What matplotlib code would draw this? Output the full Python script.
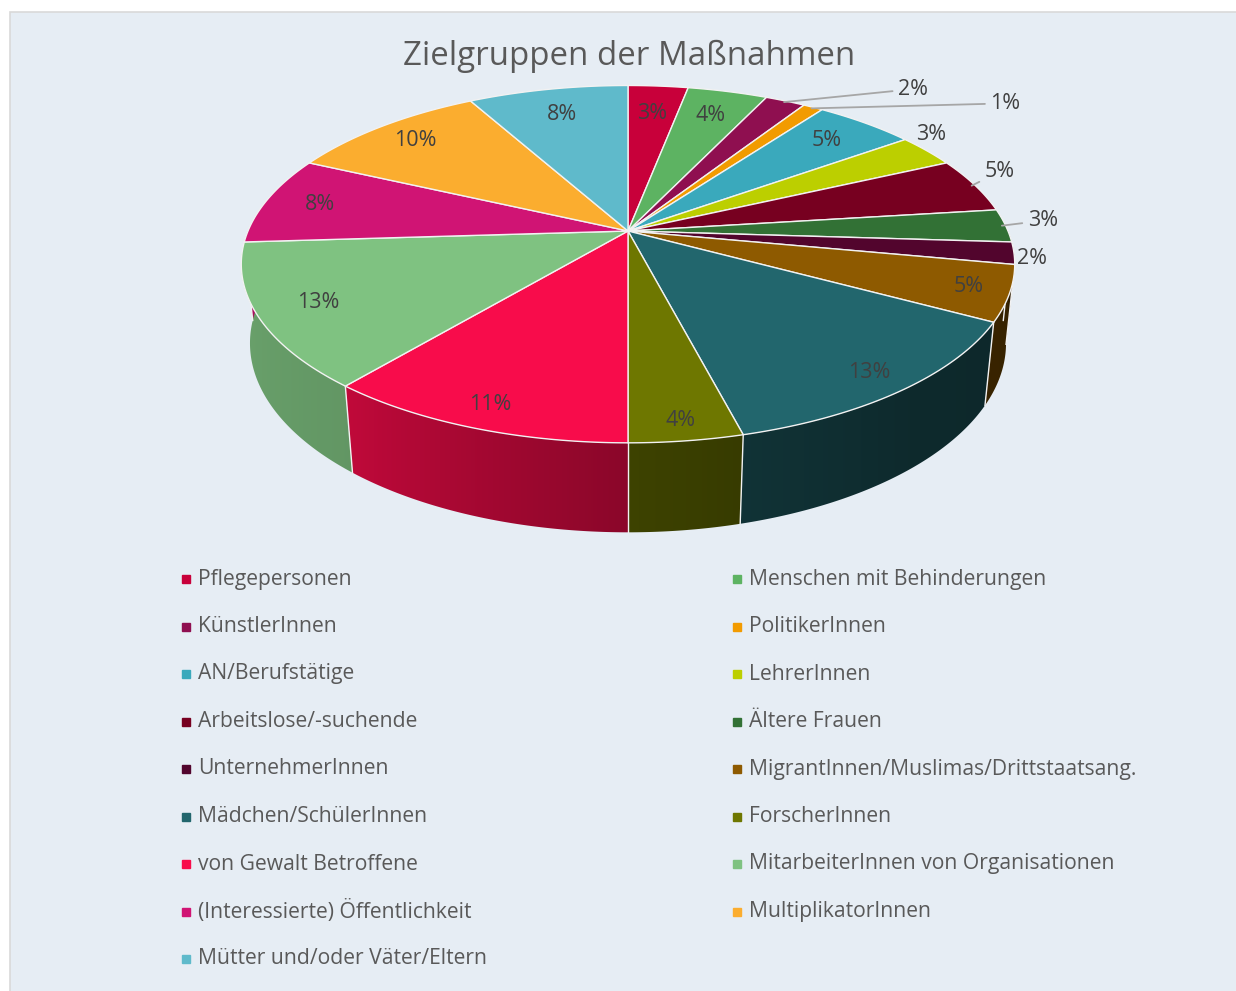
import numpy as np
import matplotlib
matplotlib.use("Agg")
import matplotlib.pyplot as plt
from matplotlib.patches import Polygon, Rectangle

# ── Data ──────────────────────────────────────────────────────────────────────

categories = [
    "Pflegepersonen", "Menschen mit Behinderungen", "KünstlerInnen",
    "PolitikerInnen", "AN/Berufstätige", "LehrerInnen",
    "Arbeitslose/-suchende", "Ältere Frauen", "UnternehmerInnen",
    "MigrantInnen/Muslimas/Drittstaatsang.", "Mädchen/SchülerInnen",
    "ForscherInnen", "von Gewalt Betroffene",
    "MitarbeiterInnen von Organisationen", "(Interessierte) Öffentlichkeit",
    "MultiplikatorInnen", "Mütter und/oder Väter/Eltern",
]
percent = [3, 4, 2, 1, 5, 3, 5, 3, 2, 5, 13, 4, 11, 13, 8, 10, 8]
colors = [
    "#c8003a", "#5db362", "#8f0f50", "#f29b00", "#3aa9bc", "#bccf00",
    "#770020", "#327135", "#52052d", "#8e5a00", "#22666d", "#6e7700",
    "#f80c4b", "#7fc281", "#d01474", "#fbad2f", "#5fbacb",
]

# ── Style / layout ────────────────────────────────────────────────────────────

W, H, DPI = 1236, 991, 100
BG     = "#e6edf4"
FRAME  = "#d9d9d9"
TXT    = "#595959"
LBL    = "#404040"
LEADER = "#a6a6a6"
EDGE   = "#f2f2f2"
FONT   = "Open Sans"

CX, CY = 628, 231        # pie centre on the page (px)
RADIUS = 380             # px
TILT   = np.radians(27)
DIST   = 4.8             # camera distance, in radii
DEPTH  = 0.235           # pie thickness, in radii

# label radius for labels drawn on the slice
LABEL_R = [0.78, 0.8, None, None, 0.82, None, None, None, None, 0.9,
           0.9, 0.92, 0.9, 0.85, 0.85, 0.85, 0.8]
# outside labels: index -> (dx, dy, leader line)
OUTSIDE = {
    2: (129, -13, True),
    3: (194, -5, True),
    5: (7, -17, False),
    6: (28, -14, True),
    7: (41, -5, True),
    8: (22, 6, False),
}

# side shading (angle on rim -> brightness factor)
SHADE_T = [-180, -130, -90, -76, -50, -20, 0]
SHADE_F = [0.86, 0.78, 0.56, 0.50, 0.41, 0.39, 0.32]


def project(x, y, z):
    s, c = np.sin(TILT), np.cos(TILT)
    v = y * s + z * c
    w = y * c - z * s
    k = DIST / (DIST + w)
    return CX + RADIUS * x * k, CY - RADIUS * v * k


def rim(t, r=1.0, z=0.0):
    return project(r * np.cos(t), r * np.sin(t), z)


def theta(p):
    return np.pi / 2 - 2 * np.pi * p


fig = plt.figure(figsize=(W / DPI, H / DPI), dpi=DPI)
fig.patch.set_facecolor("white")
ax = fig.add_axes([0, 0, 1, 1])
ax.axis("off")

ax.add_patch(Rectangle((9.5, 11.5), W + 10, H + 10, fc=BG, ec=FRAME, lw=1.2, zorder=0))

fracs = np.array(percent, dtype=float) / sum(percent)
edges = np.concatenate([[0], np.cumsum(fracs)])

# x on the front rim -> rim angle (degrees), used for the side gradient
t_front = np.linspace(-np.pi, 0, 721)
x_front = rim(t_front)[0]

# sides (only the front half is visible)
for i in range(len(fracs)):
    lo, hi = max(edges[i], 0.25), min(edges[i + 1], 0.75)
    if lo >= hi:
        continue
    ps = np.linspace(lo, hi, max(4, int((hi - lo) * 720)))
    tx, ty = rim(theta(ps))
    bx, by = rim(theta(ps[::-1]), z=-DEPTH)
    pts = np.column_stack([np.r_[tx, bx], np.r_[ty, by]])
    clip = Polygon(pts, closed=True, fc="none", ec="none", zorder=1)
    ax.add_patch(clip)

    x0, x1 = pts[:, 0].min() - 1, pts[:, 0].max() + 1
    y0, y1 = pts[:, 1].min() - 1, pts[:, 1].max() + 1
    cols = np.linspace(x0, x1, max(2, int(x1 - x0) + 1))
    tdeg = np.degrees(np.interp(cols, x_front, t_front))
    fac = np.interp(tdeg, SHADE_T, SHADE_F)
    base = np.array(matplotlib.colors.to_rgb(colors[i]))
    img = (fac[:, None] * base[None, :])[None, :, :]
    im = ax.imshow(img, extent=(x0, x1, y1, y0), aspect="auto",
                   interpolation="bilinear", zorder=1)
    im.set_clip_path(clip)

for p in edges[1:-1]:
    if 0.25 < p < 0.75:
        t = theta(p)
        xa, ya = rim(t)
        xb, yb = rim(t, z=-DEPTH)
        ax.plot([xa, xb], [ya, yb], color=EDGE, lw=1.0, zorder=2)

# top faces
for i in range(len(fracs)):
    ps = np.linspace(edges[i], edges[i + 1], max(3, int(fracs[i] * 720)))
    xs, ys = rim(theta(ps))
    pts = [(CX, CY)] + list(zip(xs, ys))
    ax.add_patch(Polygon(pts, closed=True, fc=colors[i], ec=EDGE,
                         lw=1.0, joinstyle="round", zorder=3))

# data labels
for i, val in enumerate(percent):
    tm = theta((edges[i] + edges[i + 1]) / 2)
    txt = f"{val}%"
    if i in OUTSIDE:
        dx, dy, lead = OUTSIDE[i]
        px, py = rim(tm, 0.99)
        ax.annotate(txt, xy=(px, py), xytext=(px + dx, py + dy),
                    ha="center", va="center", fontsize=15.5, color=LBL,
                    family=FONT, zorder=5,
                    arrowprops=dict(arrowstyle="-", color=LEADER, lw=1.3,
                                    shrinkA=2, shrinkB=0) if lead else None)
    else:
        lx, ly = rim(tm, LABEL_R[i])
        ax.text(lx, ly, txt, ha="center", va="center", fontsize=15.5,
                color=LBL, family=FONT, zorder=5)

# title
ax.text(629, 56, "Zielgruppen der Maßnahmen", ha="center", va="center",
        fontsize=23.8, color=TXT, family=FONT)

# legend (two columns, row-major like Excel)
for i, (name, col) in enumerate(zip(categories, colors)):
    row, c = divmod(i, 2)
    y = 579 + row * 47.5
    mx = 186 if c == 0 else 737
    ax.plot(mx, y, marker="s", ms=5.8, color=col, mec=col, zorder=4)
    ax.text(mx + 12, y, name, ha="left", va="center", fontsize=15.2,
            color=TXT, family=FONT)

ax.set_xlim(0, W)
ax.set_ylim(H, 0)

fig.savefig("out.png", dpi=DPI, facecolor="white")
